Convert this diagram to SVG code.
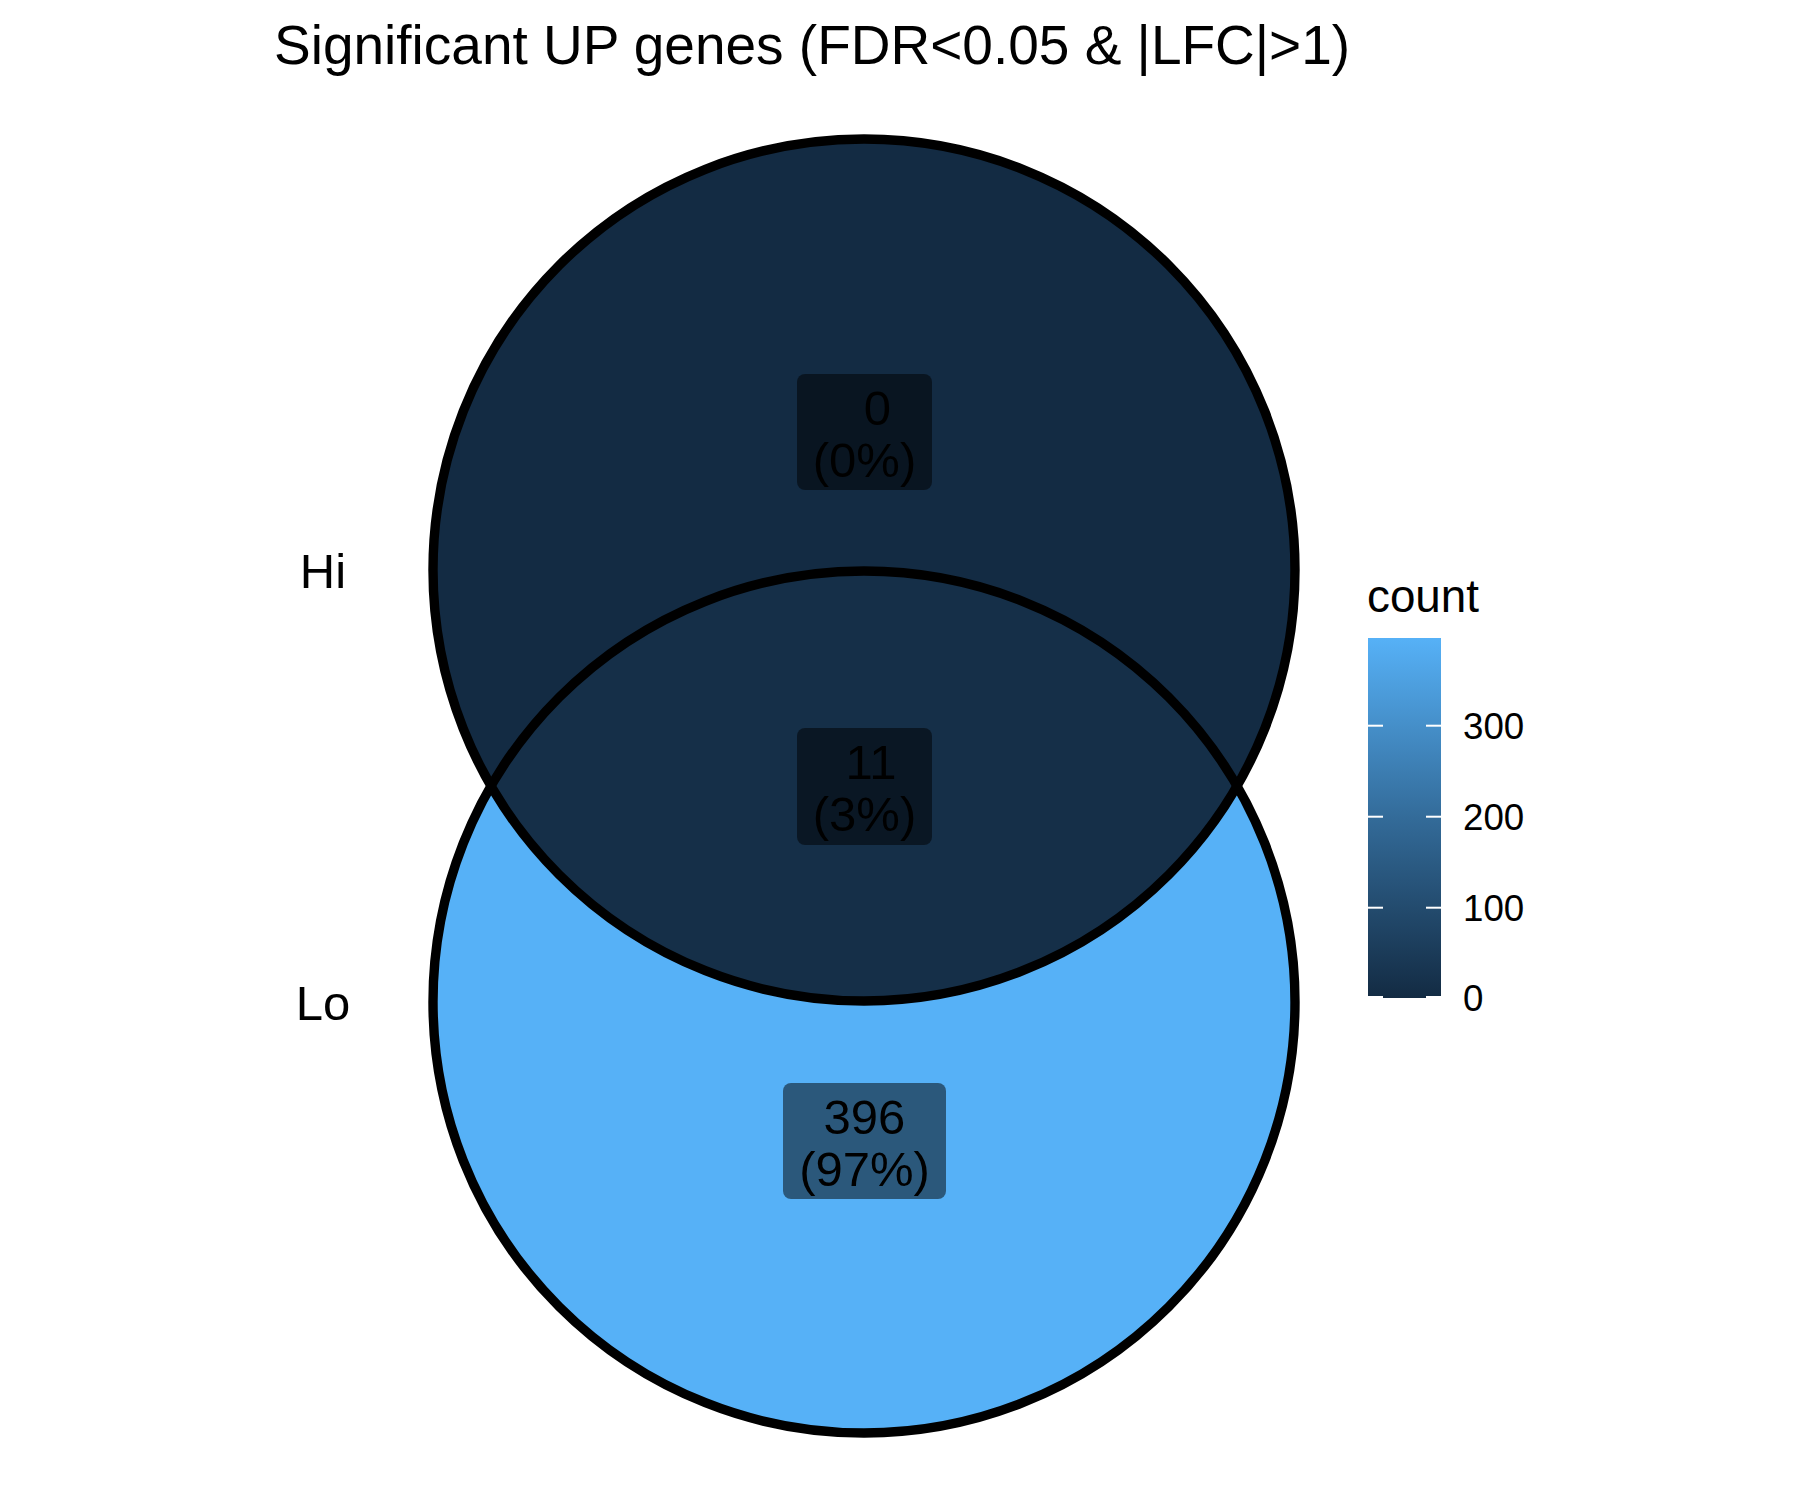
<svg xmlns="http://www.w3.org/2000/svg" width="1800" height="1500" viewBox="0 0 1800 1500">
<style>
  text { font-family: "Liberation Sans", Arial, sans-serif; fill: #000000; }
  .title { font-size: 55px; }
  .set { font-size: 49px; text-anchor: middle; }
  .lbl { font-size: 49px; text-anchor: middle; }
  .box { fill: #000000; fill-opacity: 0.5; }
  .edge { fill: none; stroke: #000000; stroke-width: 9.4; }
  .ltitle { font-size: 45.8px; }
  .tick { font-size: 36.7px; }
  .tk { stroke: #ffffff; stroke-width: 2; }
</style>
<defs>
  <linearGradient id="grad" x1="0" y1="1" x2="0" y2="0">
    <stop offset="0" stop-color="#132B43"/>
    <stop offset="0.5" stop-color="#336B99"/>
    <stop offset="1" stop-color="#56B1F7"/>
  </linearGradient>
</defs>
<rect width="1800" height="1500" fill="#ffffff"/>
<text class="title" x="274" y="64">Significant UP genes (FDR&lt;0.05 &amp; |LFC|&gt;1)</text>

<g id="region-lo">
  <circle cx="864" cy="1002" r="431" fill="#56B1F7"/>
</g>
<g id="region-hi">
  <circle cx="864" cy="570" r="431" fill="#132B43"/>
</g>
<g id="region-both">
  <path d="M 491 786 A 431 431 0 0 1 1237 786 A 431 431 0 0 1 491 786 Z" fill="#152F48"/>
</g>
<g id="connectors">
  <circle class="edge" cx="864" cy="570" r="431"/>
  <circle class="edge" cx="864" cy="1002" r="431"/>
</g>

<g id="set-hi"><text class="set" x="323" y="588">Hi</text></g>
<g id="set-lo"><text class="set" x="323" y="1020">Lo</text></g>

<g id="label-hi-only">
  <rect class="box" x="797" y="374" width="135" height="116" rx="8"/>
  <text class="lbl" x="877.5" y="424.5">0</text>
  <text class="lbl" x="864.5" y="476.5">(0%)</text>
</g>
<g id="label-both">
  <rect class="box" x="797" y="728" width="135" height="117" rx="8"/>
  <text class="lbl" x="871" y="778.5">11</text>
  <text class="lbl" x="864.5" y="830.5">(3%)</text>
</g>
<g id="label-lo-only">
  <rect class="box" x="783" y="1083" width="163" height="116" rx="8"/>
  <text class="lbl" x="864.5" y="1133.5">396</text>
  <text class="lbl" x="864.5" y="1185.5">(97%)</text>
</g>

<g id="legend">
  <text class="ltitle" x="1367" y="612">count</text>
  <rect x="1368" y="638" width="73" height="360" fill="url(#grad)"/>
  <line class="tk" x1="1368" y1="725.7" x2="1383" y2="725.7"/>
  <line class="tk" x1="1426" y1="725.7" x2="1441" y2="725.7"/>
  <line class="tk" x1="1368" y1="816.7" x2="1383" y2="816.7"/>
  <line class="tk" x1="1426" y1="816.7" x2="1441" y2="816.7"/>
  <line class="tk" x1="1368" y1="907.7" x2="1383" y2="907.7"/>
  <line class="tk" x1="1426" y1="907.7" x2="1441" y2="907.7"/>
  <line class="tk" x1="1368" y1="997" x2="1383" y2="997"/>
  <line class="tk" x1="1426" y1="997" x2="1441" y2="997"/>
  <text class="tick" x="1463" y="738.7">300</text>
  <text class="tick" x="1463" y="829.7">200</text>
  <text class="tick" x="1463" y="920.7">100</text>
  <text class="tick" x="1463" y="1011">0</text>
</g>
</svg>
